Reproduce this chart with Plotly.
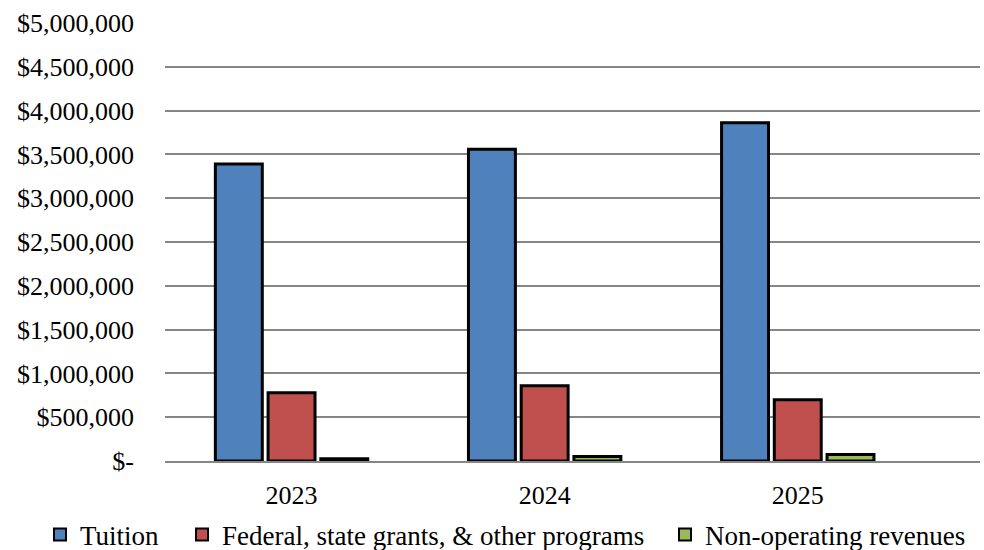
import plotly.graph_objects as go

years = ["2023", "2024", "2025"]
tuition = [3390000, 3560000, 3860000]
federal = [780000, 860000, 700000]
nonop = [25000, 50000, 75000]
series_names = ["Tuition", "Federal, state grants, & other programs", "Non-operating revenues"]
colors = ["#4F81BD", "#C0504D", "#9BBB59"]
tick_vals = [0, 500000, 1000000, 1500000, 2000000, 2500000, 3000000, 3500000, 4000000, 4500000, 5000000]
tick_text = ["$-", "$500,000", "$1,000,000", "$1,500,000", "$2,000,000", "$2,500,000",
             "$3,000,000", "$3,500,000", "$4,000,000", "$4,500,000", "$5,000,000"]

FONT = "Liberation Serif"
legend_ids = ["legend", "legend2", "legend3"]
legend_x = [-0.1534, 0.0209, 0.6135]

fig = go.Figure()
for name, vals, col, lid in zip(series_names, [tuition, federal, nonop], colors, legend_ids):
    fig.add_trace(go.Bar(
        x=years, y=vals, name=name, legend=lid,
        marker=dict(color=col, line=dict(color="black", width=3)),
    ))

legend_common = dict(orientation="h", xref="paper", yref="paper",
                     xanchor="left", y=-0.169, yanchor="middle",
                     bgcolor="rgba(0,0,0,0)",
                     font=dict(family=FONT, size=27), itemsizing="constant",
                     itemwidth=30)

fig.update_layout(
    width=984, height=550,
    margin=dict(l=165, r=4, t=23, b=89, autoexpand=False),
    paper_bgcolor="white", plot_bgcolor="white",
    font=dict(family=FONT, size=26, color="black"),
    barmode="group", bargap=0.375, bargroupgap=0.11,
    showlegend=True,
    legend=dict(x=legend_x[0], **legend_common),
    legend2=dict(x=legend_x[1], **legend_common),
    legend3=dict(x=legend_x[2], **legend_common),
)
fig.update_xaxes(type="category", range=[-0.5, 2.72], showgrid=False,
                 showline=True, linecolor="#868686", linewidth=2,
                 ticks="", tickfont=dict(family=FONT, size=26),
                 ticklabelstandoff=10)
fig.update_yaxes(range=[0, 5000000], tickvals=tick_vals, ticktext=tick_text,
                 showgrid=True, gridcolor="#868686", gridwidth=2,
                 zeroline=False, showline=False, ticks="",
                 tickfont=dict(family=FONT, size=26),
                 ticklabelstandoff=30)

fig.write_html("out.html")
